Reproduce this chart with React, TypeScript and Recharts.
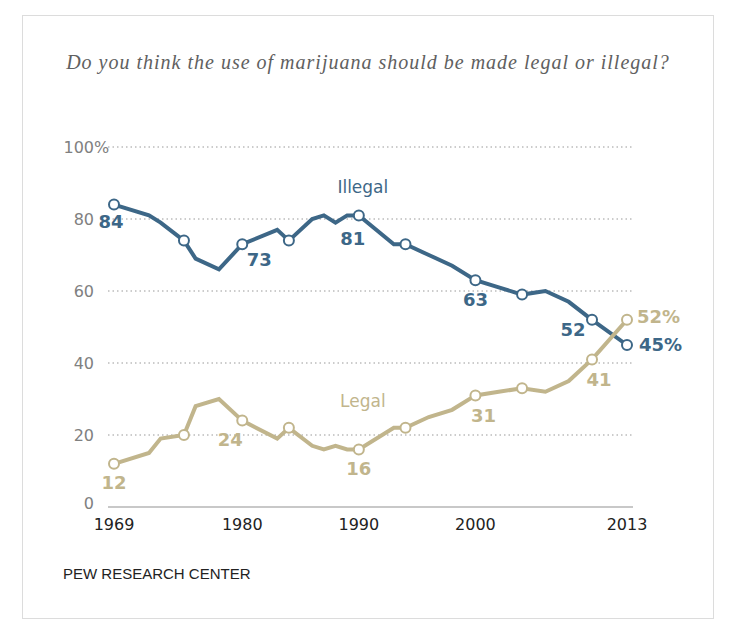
import { LineChart, Line, XAxis, YAxis, CartesianGrid, LabelList } from 'recharts';

// Survey years and shares (%)
const years = [
  1969, 1972, 1973, 1975, 1976, 1978, 1980, 1983, 1984, 1986, 1987, 1988, 1989,
  1990, 1993, 1994, 1996, 1998, 2000, 2002, 2004, 2006, 2008, 2010, 2013,
];
const illegal = [84, 81, 79, 74, 69, 66, 73, 77, 74, 80, 81, 79, 81, 81, 73, 73, 70, 67, 63, 61, 59, 60, 57, 52, 45];
const legal = [12, 15, 19, 20, 28, 30, 24, 19, 22, 17, 16, 17, 16, 16, 22, 22, 25, 27, 31, 32, 33, 32, 35, 41, 52];

const circledYears = [1969, 1975, 1980, 1984, 1990, 1994, 2000, 2004, 2010, 2013];
const xTicks = [1969, 1980, 1990, 2000, 2013];
const yTicks = [0, 20, 40, 60, 80, 100];

const data = years.map((year, i) => ({ year, illegal: illegal[i], legal: legal[i] }));

const BLUE = '#3d6787';
const TAN = '#c1b58c';
const SANS = '"DejaVu Sans", sans-serif';

// label placement relative to the point: [dx, dy]
const illegalLabelPos: Record<number, [number, number]> = {
  1969: [-3, 17], 1980: [17, 15], 1990: [-6, 23], 2000: [0, 19], 2010: [-19, 10], 2013: [12, -1],
};
const legalLabelPos: Record<number, [number, number]> = {
  1969: [0, 19], 1980: [-12, 19], 1990: [0, 19], 2000: [8, 20], 2010: [7, 20], 2013: [10, -3],
};

function makeDot(color: string) {
  return (props: any) => {
    const { cx, cy, payload } = props;
    const k = `${color}-${payload.year}`;
    if (!circledYears.includes(payload.year)) return <g key={k} />;
    return <circle key={k} cx={cx} cy={cy} r={5} fill="#fff" stroke={color} strokeWidth={2} />;
  };
}

function makeLabel(color: string, pos: Record<number, [number, number]>, name: string, nameDy: number) {
  return (props: any) => {
    const { x, y, value, index } = props;
    const year = years[index];
    const p = pos[year];
    const last = year === 2013;
    return (
      <g>
        {p && (
          <text
            x={x + p[0]}
            y={y + p[1]}
            textAnchor={last ? 'start' : 'middle'}
            dominantBaseline="central"
            fill={color}
            fontSize={18}
            fontWeight="bold"
            fontFamily={SANS}
          >
            {last ? `${value}%` : value}
          </text>
        )}
        {year === 1990 && (
          <text x={x + 4} y={y + nameDy} textAnchor="middle" dominantBaseline="central" fill={color} fontSize={17} fontFamily={SANS}>
            {name}
          </text>
        )}
      </g>
    );
  };
}

function YTick(props: any) {
  const { x, y, payload } = props;
  const v = payload.value;
  const yy = v === 0 ? y - 4 : y;
  return (
    <g>
      <text x={x} y={yy} textAnchor="end" dominantBaseline="central" fill="#808080" fontSize={16} fontFamily={SANS}>
        {v}
      </text>
      {v === 100 && (
        <text x={x} y={yy} textAnchor="start" dominantBaseline="central" fill="#808080" fontSize={16} fontFamily={SANS}>
          %
        </text>
      )}
    </g>
  );
}

export default function App() {
  return (
    <div style={{ position: 'absolute', left: 0, top: 0, width: 736, height: 633, background: '#fff' }}>
      <div
        style={{
          position: 'absolute', left: 22, top: 15, width: 690, height: 602,
          border: '1px solid #dcdcdc', boxSizing: 'content-box',
        }}
      />
      <div
        style={{
          position: 'absolute', left: 0, top: 50, width: 736, textAlign: 'center',
          fontFamily: '"Liberation Serif", serif', fontStyle: 'italic', fontSize: 20,
          lineHeight: '24px', color: '#606060', letterSpacing: 1,
        }}
      >
        Do you think the use of marijuana should be made legal or illegal?
      </div>
      <div style={{ position: 'absolute', left: 0, top: 0 }}>
        <LineChart width={736} height={633} data={data} margin={{ top: 147, right: 103, bottom: 96, left: 48 }}>
          <CartesianGrid vertical={false} stroke="#999" strokeDasharray="1.5 3" />
          <XAxis
            dataKey="year"
            type="number"
            domain={[1969, 2013]}
            ticks={xTicks}
            padding={{ left: 6, right: 6 }}
            height={30}
            tickLine={false}
            tickSize={0}
            tickMargin={12}
            axisLine={{ stroke: '#c8c8c8', strokeWidth: 2 }}
            tick={{ fill: '#222', fontSize: 16, fontFamily: SANS }}
          />
          <YAxis
            domain={[0, 100]}
            ticks={yTicks}
            width={60}
            axisLine={false}
            tickLine={false}
            tickSize={0}
            tickMargin={14}
            tick={<YTick />}
          />
          <Line
            dataKey="illegal"
            type="linear"
            stroke={BLUE}
            strokeWidth={4}
            dot={makeDot(BLUE)}
            activeDot={false}
            isAnimationActive={false}
          >
            <LabelList dataKey="illegal" content={makeLabel(BLUE, illegalLabelPos, 'Illegal', -28)} />
          </Line>
          <Line
            dataKey="legal"
            type="linear"
            stroke={TAN}
            strokeWidth={4}
            dot={makeDot(TAN)}
            activeDot={false}
            isAnimationActive={false}
          >
            <LabelList dataKey="legal" content={makeLabel(TAN, legalLabelPos, 'Legal', -48)} />
          </Line>
        </LineChart>
      </div>
      <div
        style={{
          position: 'absolute', left: 63, top: 565, fontFamily: '"Liberation Sans", sans-serif',
          fontSize: 15, lineHeight: '18px', color: '#222',
        }}
      >
        PEW RESEARCH CENTER
      </div>
    </div>
  );
}
